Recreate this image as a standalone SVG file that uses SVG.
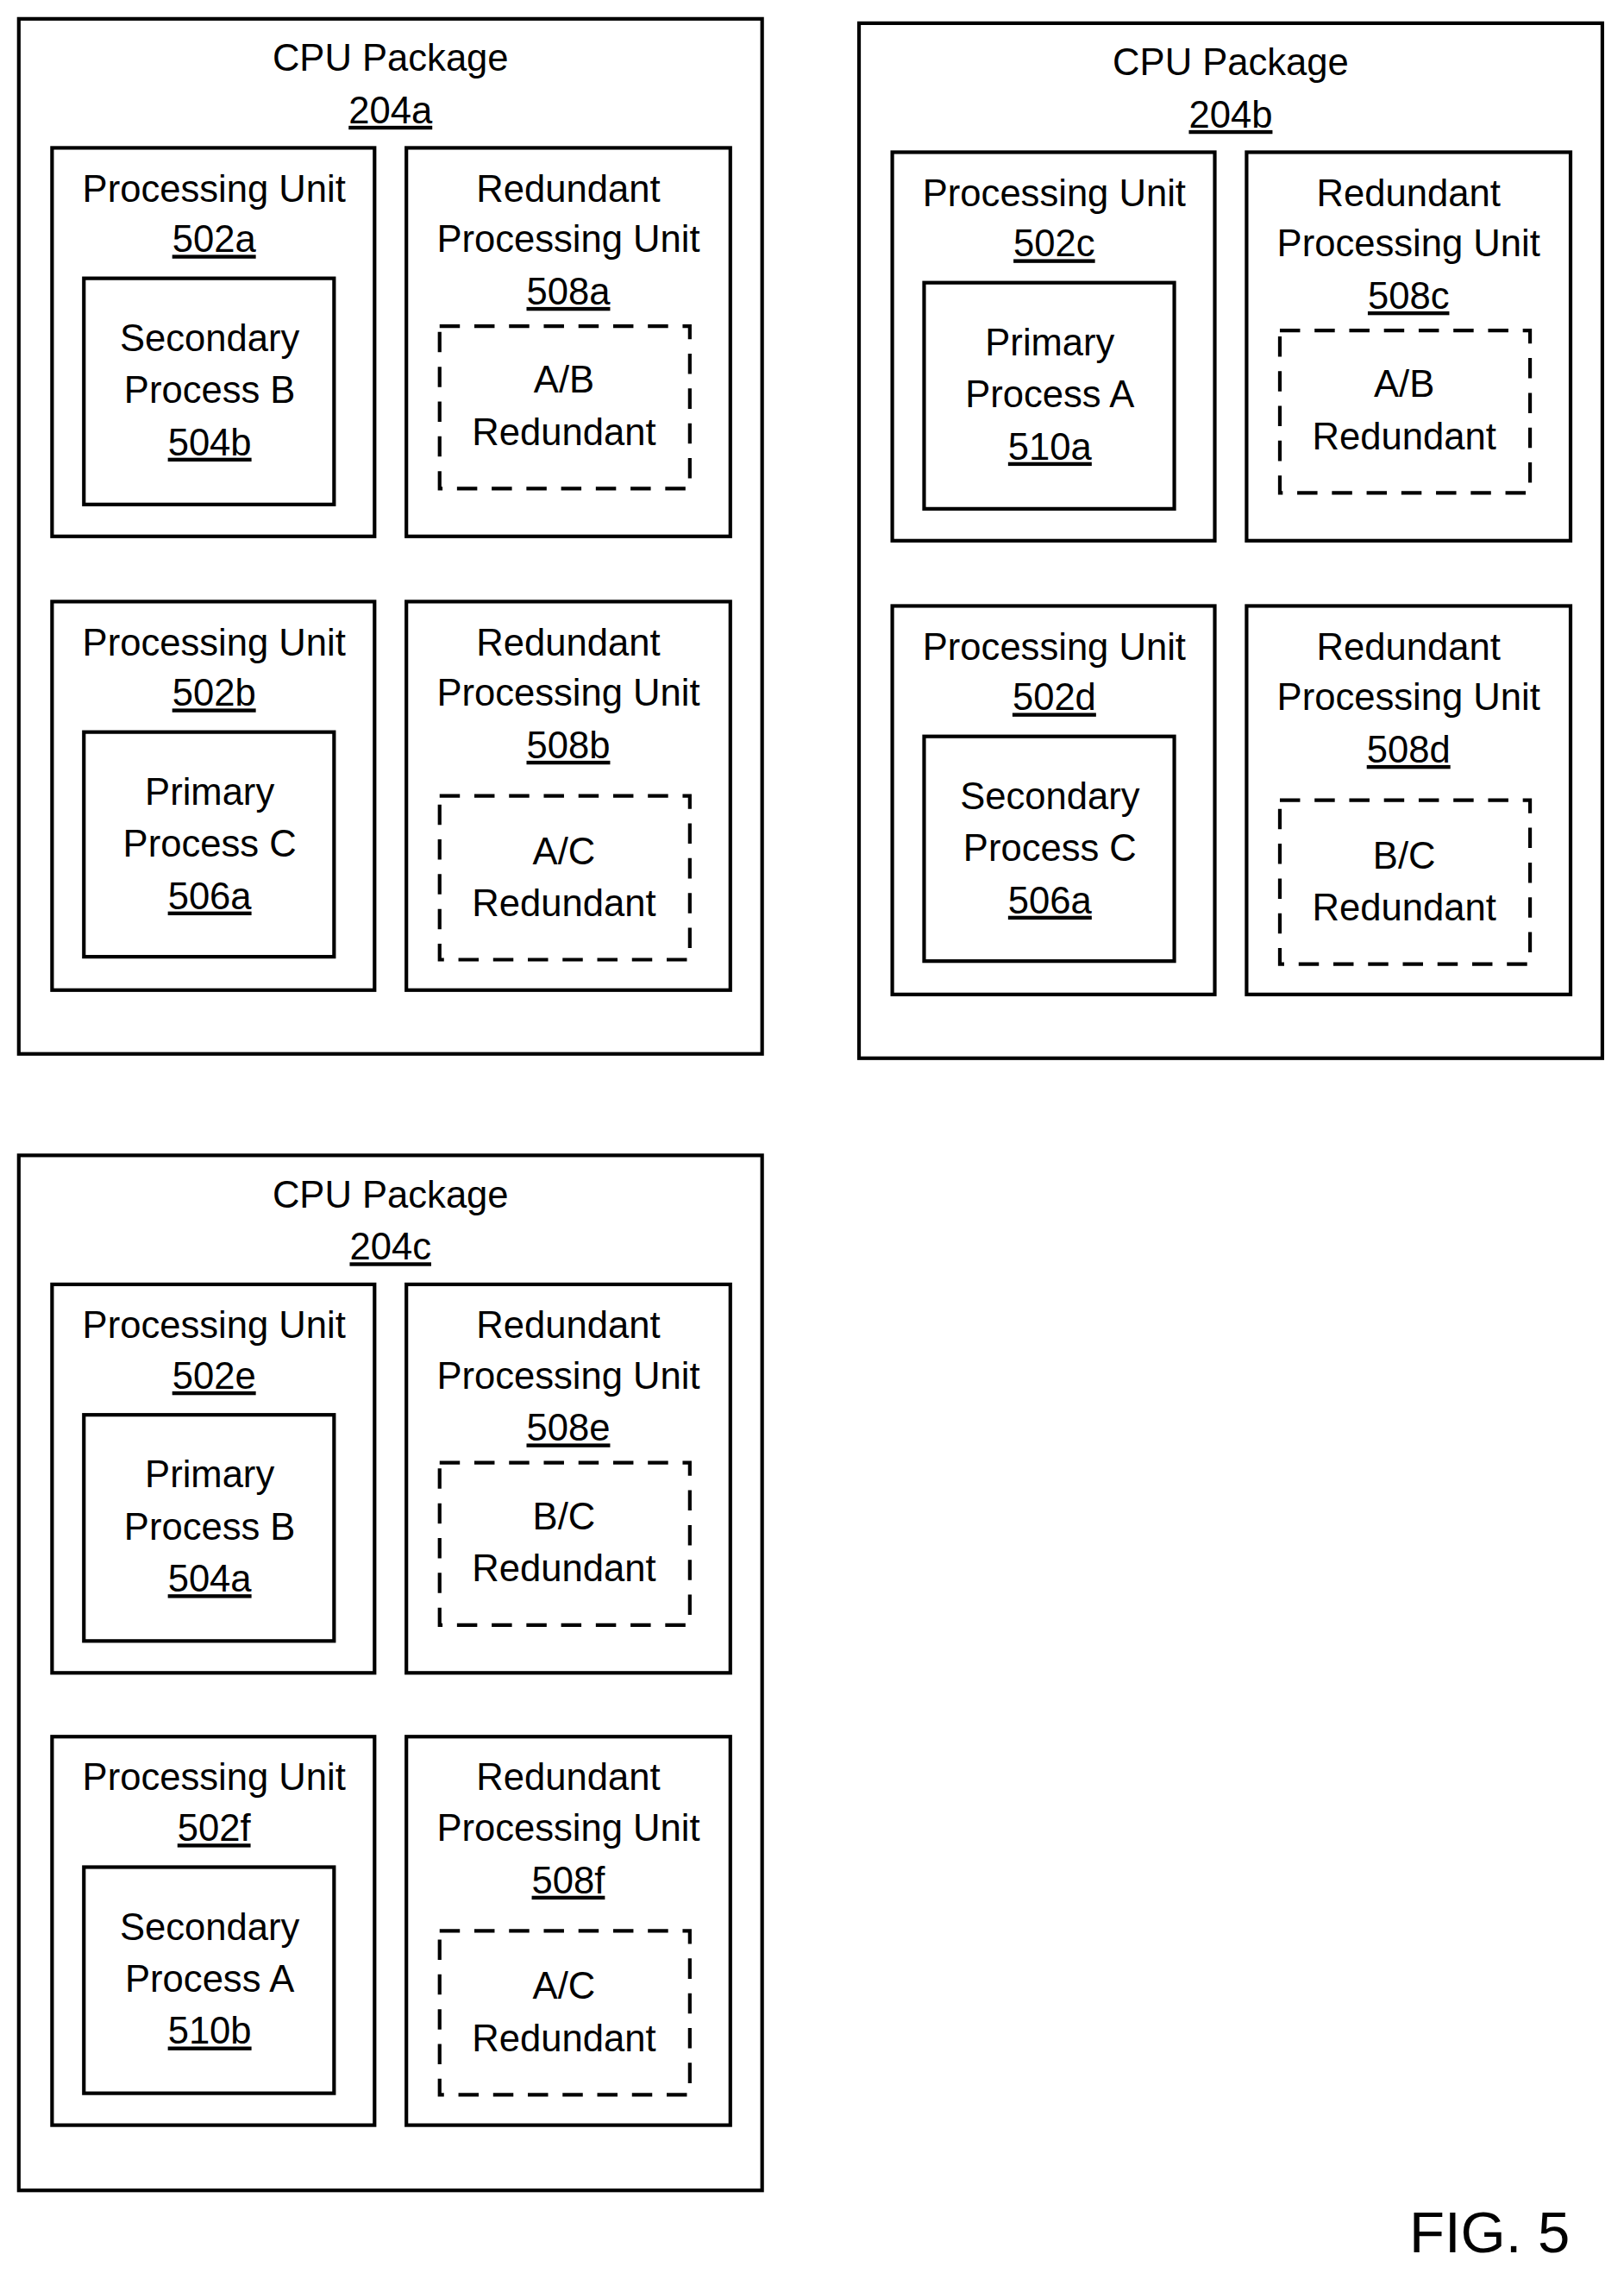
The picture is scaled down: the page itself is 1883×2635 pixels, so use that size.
<svg xmlns="http://www.w3.org/2000/svg" width="1883" height="2635" viewBox="0 0 1883 2635">
<style>
rect{fill:none;stroke:#000;stroke-width:2.5}
.d{stroke-dasharray:14 10}
text{font-family:"Liberation Sans",Arial,sans-serif;font-size:26px;text-anchor:middle;fill:#000}
.u{text-decoration:underline}
</style>
<rect x="0" y="0" width="1883" height="2635" style="fill:#fff;stroke:none"/>
<g transform="scale(1.6768,1.6805)">
<g id="pkg204a">
<rect x="13" y="13" width="514" height="714"/>
<text x="270" y="49">CPU Package</text><text x="270" y="85" class="u">204a</text>
<g id="pu502a"><rect x="36" y="102" width="223" height="268"/><text x="148" y="139">Processing Unit</text><text x="148" y="174" class="u">502a</text></g>
<g id="sp504b"><rect x="58" y="192" width="173" height="156"/><text x="145" y="242">Secondary</text><text x="145" y="278">Process B</text><text x="145" y="314" class="u">504b</text></g>
<g id="rpu508a"><rect x="281" y="102" width="224" height="268"/><text x="393" y="139">Redundant</text><text x="393" y="174">Processing Unit</text><text x="393" y="210" class="u">508a</text></g>
<g id="ab1"><rect class="d" x="304" y="225" width="173" height="112"/><text x="390" y="271">A/B</text><text x="390" y="307">Redundant</text></g>
<g id="pu502b"><rect x="36" y="415" width="223" height="268"/><text x="148" y="452">Processing Unit</text><text x="148" y="487" class="u">502b</text></g>
<g id="pp506a"><rect x="58" y="505" width="173" height="155"/><text x="145" y="555">Primary</text><text x="145" y="591">Process C</text><text x="145" y="627" class="u">506a</text></g>
<g id="rpu508b"><rect x="281" y="415" width="224" height="268"/><text x="393" y="452">Redundant</text><text x="393" y="487">Processing Unit</text><text x="393" y="523" class="u">508b</text></g>
<g id="ac1"><rect class="d" x="304" y="549" width="173" height="113"/><text x="390" y="596">A/C</text><text x="390" y="632">Redundant</text></g>
</g>
<g id="pkg204b" transform="translate(581,3)">
<rect x="13" y="13" width="514" height="714"/>
<text x="270" y="49">CPU Package</text><text x="270" y="85" class="u">204b</text>
<g id="pu502c"><rect x="36" y="102" width="223" height="268"/><text x="148" y="139">Processing Unit</text><text x="148" y="174" class="u">502c</text></g>
<g id="pp510a"><rect x="58" y="192" width="173" height="156"/><text x="145" y="242">Primary</text><text x="145" y="278">Process A</text><text x="145" y="314" class="u">510a</text></g>
<g id="rpu508c"><rect x="281" y="102" width="224" height="268"/><text x="393" y="139">Redundant</text><text x="393" y="174">Processing Unit</text><text x="393" y="210" class="u">508c</text></g>
<g id="ab2"><rect class="d" x="304" y="225" width="173" height="112"/><text x="390" y="271">A/B</text><text x="390" y="307">Redundant</text></g>
<g id="pu502d"><rect x="36" y="415" width="223" height="268"/><text x="148" y="452">Processing Unit</text><text x="148" y="487" class="u">502d</text></g>
<g id="sp506a"><rect x="58" y="505" width="173" height="155"/><text x="145" y="555">Secondary</text><text x="145" y="591">Process C</text><text x="145" y="627" class="u">506a</text></g>
<g id="rpu508d"><rect x="281" y="415" width="224" height="268"/><text x="393" y="452">Redundant</text><text x="393" y="487">Processing Unit</text><text x="393" y="523" class="u">508d</text></g>
<g id="bc1"><rect class="d" x="304" y="549" width="173" height="113"/><text x="390" y="596">B/C</text><text x="390" y="632">Redundant</text></g>
</g>
<g id="pkg204c" transform="translate(0,784)">
<rect x="13" y="13" width="514" height="714"/>
<text x="270" y="49">CPU Package</text><text x="270" y="85" class="u">204c</text>
<g id="pu502e"><rect x="36" y="102" width="223" height="268"/><text x="148" y="139">Processing Unit</text><text x="148" y="174" class="u">502e</text></g>
<g id="pp504a"><rect x="58" y="192" width="173" height="156"/><text x="145" y="242">Primary</text><text x="145" y="278">Process B</text><text x="145" y="314" class="u">504a</text></g>
<g id="rpu508e"><rect x="281" y="102" width="224" height="268"/><text x="393" y="139">Redundant</text><text x="393" y="174">Processing Unit</text><text x="393" y="210" class="u">508e</text></g>
<g id="bc2"><rect class="d" x="304" y="225" width="173" height="112"/><text x="390" y="271">B/C</text><text x="390" y="307">Redundant</text></g>
<g id="pu502f"><rect x="36" y="414" width="223" height="268"/><text x="148" y="451">Processing Unit</text><text x="148" y="486" class="u">502f</text></g>
<g id="sp510b"><rect x="58" y="504" width="173" height="156"/><text x="145" y="554">Secondary</text><text x="145" y="590">Process A</text><text x="145" y="626" class="u">510b</text></g>
<g id="rpu508f"><rect x="281" y="414" width="224" height="268"/><text x="393" y="451">Redundant</text><text x="393" y="486">Processing Unit</text><text x="393" y="522" class="u">508f</text></g>
<g id="ac2"><rect class="d" x="304" y="548" width="173" height="113"/><text x="390" y="595">A/C</text><text x="390" y="631">Redundant</text></g>
</g>
<g id="connectors"/>
<text x="1030" y="1554" style="font-size:40px">FIG. 5</text>
</g>
</svg>
